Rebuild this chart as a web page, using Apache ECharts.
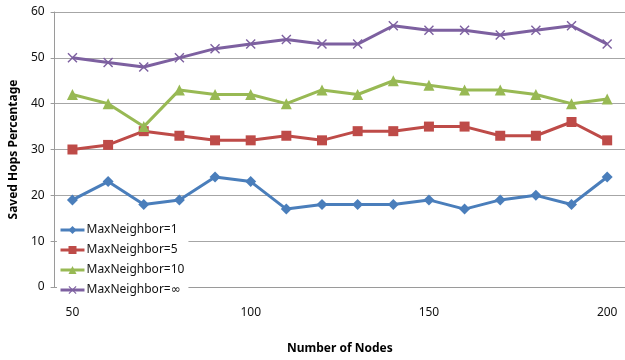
<!DOCTYPE html>
<html>
<head>
<meta charset="utf-8">
<script src="https://cdn.jsdelivr.net/npm/echarts@6/dist/echarts.min.js"></script>
<style>
  html, body { margin: 0; padding: 0; background: #fff; }
  #chart { width: 625px; height: 360px; }
</style>
</head>
<body>
<div id="chart"></div>
<script>
// Number of nodes on the x axis
const nodes = [50, 60, 70, 80, 90, 100, 110, 120, 130, 140, 150, 160, 170, 180, 190, 200];

// Saved hops percentage for each neighbour limit
const maxNeighbor1 = [19, 23, 18, 19, 24, 23, 17, 18, 18, 18, 19, 17, 19, 20, 18, 24];
const maxNeighbor5 = [30, 31, 34, 33, 32, 32, 33, 32, 34, 34, 35, 35, 33, 33, 36, 32];
const maxNeighbor10 = [42, 40, 35, 43, 42, 42, 40, 43, 42, 45, 44, 43, 43, 42, 40, 41];
const maxNeighborInf = [50, 49, 48, 50, 52, 53, 54, 53, 53, 57, 56, 56, 55, 56, 57, 53];

const seriesNames = ['MaxNeighbor=1', 'MaxNeighbor=5', 'MaxNeighbor=10', 'MaxNeighbor=\u221E'];
const yTicks = [0, 10, 20, 30, 40, 50, 60];

const FONT = '"Noto Sans", "DejaVu Sans", sans-serif';
const crossPath = 'path://M0,1L1,0L5,4L9,0L10,1L6,5L10,9L9,10L5,6L1,10L0,9L4,5Z';

function lineSeries(name, data, color, symbol, size) {
  return {
    name: name,
    type: 'line',
    data: data,
    symbol: symbol,
    symbolSize: size,
    showAllSymbol: true,
    lineStyle: { color: color, width: 3 },
    itemStyle: { color: color },
    emphasis: { disabled: true },
    animation: false
  };
}

const chart = echarts.init(document.getElementById('chart'), null, { renderer: 'canvas' });
chart.setOption({
  backgroundColor: '#ffffff',
  animation: false,
  grid: { left: 52, top: 12, width: 578, height: 282, containLabel: false },
  legend: {
    orient: 'vertical',
    left: 57,
    top: 222,
    itemWidth: 24,
    itemHeight: 10,
    itemGap: 8,
    padding: [2, 4, 2, 2],
    backgroundColor: '#ffffff',
    lineStyle: { width: 3 },
    textStyle: { fontFamily: FONT, fontSize: 12, color: '#111', padding: [0, 0, 0, -3] },
    data: seriesNames
  },
  xAxis: {
    type: 'category',
    data: nodes,
    boundaryGap: true,
    name: 'Number of Nodes',
    nameLocation: 'middle',
    nameGap: 56,
    nameTextStyle: { fontFamily: FONT, fontSize: 12, fontWeight: 'bold', color: '#000' },
    axisLine: { show: true, lineStyle: { color: '#9a9a9a', width: 1 } },
    axisTick: { show: false },
    axisLabel: {
      interval: 4,
      margin: 20,
      fontFamily: FONT, fontSize: 12, color: '#111'
    },
    splitLine: { show: false }
  },
  yAxis: {
    type: 'value',
    min: yTicks[0],
    max: yTicks[yTicks.length - 1],
    interval: 10,
    name: 'Saved Hops Percentage',
    nameLocation: 'middle',
    nameRotate: 90,
    nameGap: 33,
    nameTextStyle: { fontFamily: FONT, fontSize: 12, fontWeight: 'bold', color: '#000' },
    axisLine: { show: true, lineStyle: { color: '#9a9a9a', width: 1 } },
    axisTick: { show: true, length: 4, inside: false, lineStyle: { color: '#9a9a9a' } },
    axisLabel: { margin: 10, fontFamily: FONT, fontSize: 12, color: '#111' },
    splitLine: { show: true, lineStyle: { color: '#a6a6a6', width: 1.2 } }
  },
  series: [
    lineSeries(seriesNames[0], maxNeighbor1, '#4a7ebb', 'diamond', 11),
    lineSeries(seriesNames[1], maxNeighbor5, '#be4b48', 'rect', 10),
    lineSeries(seriesNames[2], maxNeighbor10, '#98b954', 'triangle', 11),
    lineSeries(seriesNames[3], maxNeighborInf, '#7d60a0', crossPath, 10)
  ]
});
</script>
</body>
</html>
